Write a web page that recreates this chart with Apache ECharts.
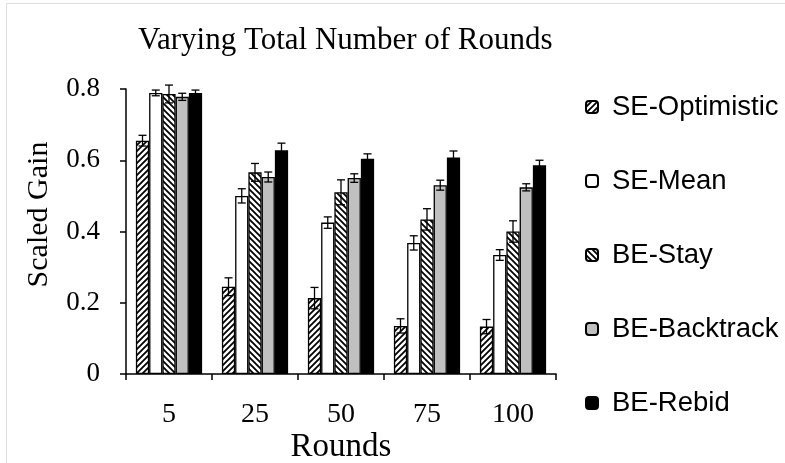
<!DOCTYPE html>
<html>
<head>
<meta charset="utf-8">
<script src="https://cdn.jsdelivr.net/npm/echarts@6/dist/echarts.min.js"></script>
<style>
  html, body { margin: 0; padding: 0; background: #fff; }
  #chart { width: 785px; height: 463px; }
</style>
</head>
<body>
<div id="chart"></div>
<script>
// 数据
var rounds = ['5', '25', '50', '75', '100'];
var seriesNames = ['SE-Optimistic', 'SE-Mean', 'BE-Stay', 'BE-Backtrack', 'BE-Rebid'];
var seOptimistic = [0.655, 0.245, 0.213, 0.135, 0.133];
var seMean       = [0.789, 0.500, 0.425, 0.368, 0.334];
var beStay       = [0.786, 0.566, 0.510, 0.434, 0.400];
var beBacktrack  = [0.778, 0.553, 0.550, 0.530, 0.524];
var beRebid      = [0.789, 0.628, 0.604, 0.608, 0.586];
// 误差 (±)
var errOptimistic = [0.015, 0.025, 0.030, 0.020, 0.020];
var errMean       = [0.008, 0.020, 0.016, 0.020, 0.015];
var errStay       = [0.025, 0.025, 0.035, 0.030, 0.030];
var errBacktrack  = [0.010, 0.014, 0.012, 0.014, 0.010];
var errRebid      = [0.008, 0.020, 0.014, 0.018, 0.014];
var yTicks = [0, 0.2, 0.4, 0.6, 0.8];

var values = [seOptimistic, seMean, beStay, beBacktrack, beRebid];
var errors = [errOptimistic, errMean, errStay, errBacktrack, errRebid];

// 斜线填充
function stripes(dir) {
  var c = document.createElement('canvas');
  c.width = 6; c.height = 6;
  var ctx = c.getContext('2d');
  ctx.fillStyle = '#fff';
  ctx.fillRect(0, 0, 6, 6);
  ctx.strokeStyle = '#000';
  ctx.lineWidth = 1.8;
  ctx.beginPath();
  if (dir > 0) {
    ctx.moveTo(-3, 3); ctx.lineTo(3, -3);
    ctx.moveTo(0, 6); ctx.lineTo(6, 0);
    ctx.moveTo(3, 9); ctx.lineTo(9, 3);
  } else {
    ctx.moveTo(-3, 3); ctx.lineTo(3, 9);
    ctx.moveTo(0, 0); ctx.lineTo(6, 6);
    ctx.moveTo(3, -3); ctx.lineTo(9, 3);
  }
  ctx.stroke();
  return { image: c, repeat: 'repeat' };
}

var fills = [stripes(1), '#ffffff', stripes(-1), '#c0c0c0', '#000000'];
var gapPct = 0.23;

var serif = 'Liberation Serif';
var series = [];
values.forEach(function (vals, i) {
  series.push({
    name: seriesNames[i],
    type: 'bar',
    data: vals,
    barGap: 0,
    barCategoryGap: (gapPct * 100) + '%',
    itemStyle: { color: fills[i], borderColor: '#000', borderWidth: 1.3 }
  });
});

// 误差线
values.forEach(function (vals, i) {
  var data = vals.map(function (v, k) {
    return [k, v - errors[i][k], v + errors[i][k]];
  });
  series.push({
    name: 'err' + i,
    type: 'custom',
    z: 5,
    data: data,
    encode: { x: 0, y: [1, 2] },
    renderItem: function (params, api) {
      var band = api.size([1, 0])[0];
      var bw = band * (1 - gapPct) / 5;
      var off = -band * (1 - gapPct) / 2 + bw * (i + 0.5);
      var lo = api.coord([api.value(0), api.value(1)]);
      var hi = api.coord([api.value(0), api.value(2)]);
      var x = lo[0] + off;
      var cap = 4;
      var st = { stroke: '#000', lineWidth: 1.3 };
      return {
        type: 'group',
        children: [
          { type: 'line', shape: { x1: x, y1: lo[1], x2: x, y2: hi[1] }, style: st },
          { type: 'line', shape: { x1: x - cap, y1: lo[1], x2: x + cap, y2: lo[1] }, style: st },
          { type: 'line', shape: { x1: x - cap, y1: hi[1], x2: x + cap, y2: hi[1] }, style: st }
        ]
      };
    }
  });
});

var myChart = echarts.init(document.getElementById('chart'));
myChart.setOption({
  animation: false,
  backgroundColor: '#fff',
  title: {
    text: 'Varying Total Number of Rounds',
    left: 133,
    top: 20,
    textStyle: { fontFamily: serif, fontSize: 31, fontWeight: 'normal', color: '#000' }
  },
  legend: {
    orient: 'vertical',
    left: 580,
    top: 88,
    itemGap: 46,
    itemWidth: 12,
    itemHeight: 12,
    data: seriesNames,
    textStyle: { fontFamily: 'Liberation Sans', fontSize: 27.5, color: '#000', padding: [0, 0, 0, 9] }
  },
  grid: { left: 126, right: 229, top: 89, bottom: 89, outerBoundsMode: 'none', containLabel: false },
  xAxis: {
    type: 'category',
    data: rounds,
    name: 'Rounds',
    nameLocation: 'middle',
    nameGap: 57,
    nameMoveOverlap: false,
    nameTextStyle: { fontFamily: serif, fontSize: 33, color: '#000' },
    axisLine: { lineStyle: { color: '#000', width: 1.5 } },
    axisTick: { show: true, length: 6, lineStyle: { color: '#000', width: 1.5 } },
    axisLabel: { margin: 27, fontFamily: serif, fontSize: 28, color: '#000' }
  },
  yAxis: {
    type: 'value',
    min: yTicks[0],
    max: yTicks[yTicks.length - 1],
    interval: 0.2,
    name: 'Scaled Gain',
    nameLocation: 'middle',
    nameGap: 72,
    nameMoveOverlap: false,
    nameTextStyle: { fontFamily: serif, fontSize: 30, color: '#000', padding: [0, 0, 0, 34] },
    splitLine: { show: false },
    axisLine: { show: true, lineStyle: { color: '#000', width: 1.5 } },
    axisTick: { show: true, length: 6, lineStyle: { color: '#000', width: 1.5 } },
    axisLabel: {
      margin: 26, fontFamily: serif, fontSize: 27, color: '#000',
      formatter: function (v) { return v === 0 ? '0' : v.toFixed(1); }
    }
  },
  graphic: [
    { type: 'line', shape: { x1: 6.5, y1: 3.5, x2: 6.5, y2: 463 }, style: { stroke: '#ddd', lineWidth: 1 } },
    { type: 'line', shape: { x1: 6.5, y1: 3.5, x2: 785, y2: 3.5 }, style: { stroke: '#ddd', lineWidth: 1 } }
  ],
  series: series
});
</script>
</body>
</html>
